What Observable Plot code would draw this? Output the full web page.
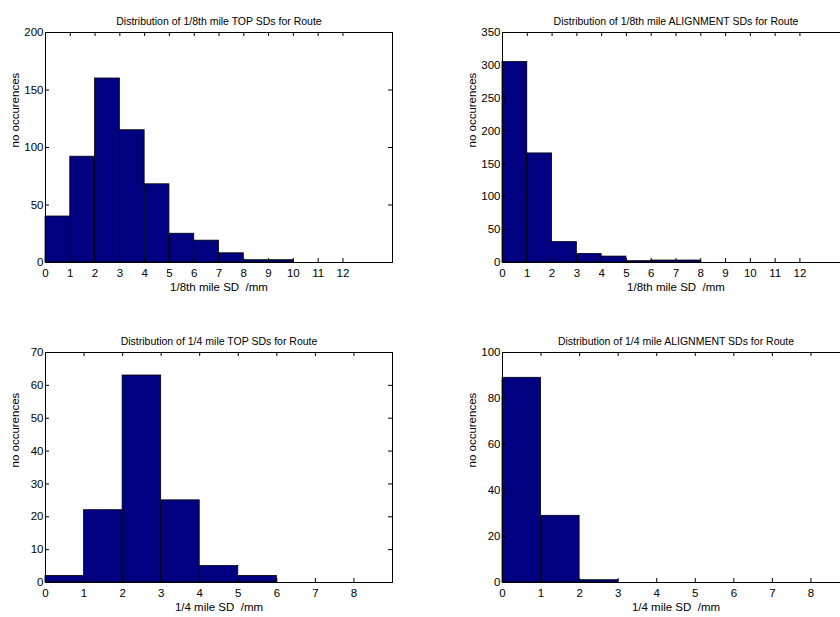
<!DOCTYPE html>
<html>
<head>
<meta charset="utf-8">
<script src="https://cdn.jsdelivr.net/npm/d3@7"></script>
<script src="https://cdn.jsdelivr.net/npm/@observablehq/plot@0.6"></script>
<style>
  html, body { margin: 0; padding: 0; background: #fff; }
  body { width: 840px; height: 617px; overflow: hidden; position: relative; }
  .panel { position: absolute; }
  .panel svg { overflow: visible; max-width: none !important; }
</style>
</head>
<body>
<div id="p1" class="panel" style="left:0px;top:0px;width:420px"></div>
<div id="p2" class="panel" style="left:420px;top:0px;width:457px"></div>
<div id="p3" class="panel" style="left:0px;top:320px;width:420px"></div>
<div id="p4" class="panel" style="left:420px;top:320px;width:457px"></div>
<script>
// ---- data ----
const titles = [
  "Distribution of 1/8th mile TOP SDs for Route",
  "Distribution of 1/8th mile ALIGNMENT SDs for Route",
  "Distribution of 1/4 mile TOP SDs for Route",
  "Distribution of 1/4 mile ALIGNMENT SDs for Route"
];
const xLabels = ["1/8th mile SD  /mm", "1/8th mile SD  /mm", "1/4 mile SD  /mm", "1/4 mile SD  /mm"];
const yLabel = "no occurences";

// bin lower edges (bins are 1 mm wide)
const binsEighth = [0, 1, 2, 3, 4, 5, 6, 7, 8, 9, 10, 11, 12, 13];
const binsQuarter = [0, 1, 2, 3, 4, 5, 6, 7, 8];

const countsEighthTop = [40, 92, 160, 115, 68, 25, 19, 8, 2, 2, 0, 0, 0, 0];
const countsEighthAlign = [305, 166, 31, 13, 9, 2, 3, 3, 0, 0, 0, 0, 0, 0];
const countsQuarterTop = [2, 22, 63, 25, 5, 2, 0, 0, 0];
const countsQuarterAlign = [89, 29, 1, 0, 0, 0, 0, 0, 0];

const xTicksEighth = [0, 1, 2, 3, 4, 5, 6, 7, 8, 9, 10, 11, 12];
const xTicksQuarter = [0, 1, 2, 3, 4, 5, 6, 7, 8];
const yTicks1 = [0, 50, 100, 150, 200];
const yTicks2 = [0, 50, 100, 150, 200, 250, 300, 350];
const yTicks3 = [0, 10, 20, 30, 40, 50, 60, 70];
const yTicks4 = [0, 20, 40, 60, 80, 100];

const xMaxEighth = 14, xMaxQuarter = 9;

// ---- drawing ----
const FONT = "'Liberation Sans', Arial, Helvetica, sans-serif";

function panel(el, opts) {
  const {title, xLabel, bins, counts, xTicks, yTicks, xMax, yMax, marginLeft, width} = opts;
  const data = bins.map((b, i) => ({x1: b, x2: b + 1, y: counts[i]}));
  const mT = 32, mB = 38, h = 300;
  const frameH = h - mT - mB;
  const frameW = width - marginLeft - 28;
  const tl = 4;
  const chart = Plot.plot({
    width, height: h,
    marginLeft, marginRight: 28, marginTop: mT, marginBottom: mB,
    style: {fontFamily: FONT, fontSize: "11px", background: "transparent", color: "#000"},
    x: {domain: [0, xMax], axis: null},
    y: {domain: [0, yMax], axis: null},
    marks: [
      Plot.rectY(data, {x1: "x1", x2: "x2", y: "y", fill: "#000080", stroke: "#000", strokeWidth: 0.8}),
      Plot.frame({stroke: "#000", strokeWidth: 1}),
      // inward ticks
      Plot.tickX(xTicks, {x: d => d, insetTop: frameH - tl, stroke: "#000"}),
      Plot.tickX(xTicks, {x: d => d, insetBottom: frameH - tl, stroke: "#000"}),
      Plot.tickY(yTicks, {y: d => d, insetRight: frameW - tl, stroke: "#000"}),
      Plot.tickY(yTicks, {y: d => d, insetLeft: frameW - tl, stroke: "#000"}),
      // tick labels
      Plot.axisX(xTicks, {anchor: "bottom", tickSize: 0, tickPadding: 6, fontSize: 11.5, label: null}),
      Plot.axisY(yTicks, {anchor: "left", tickSize: 0, tickPadding: 2, fontSize: 11.5, letterSpacing: "-0.5px", label: null}),
      // title & labels
      Plot.text([title], {frameAnchor: "top", dy: -15, text: d => d, fontSize: 10.5, letterSpacing: "-0.5px"}),
      Plot.text([xLabel], {frameAnchor: "bottom", dy: 28, text: d => d, fontSize: 11.5, letterSpacing: "-0.5px"}),
      Plot.text([yLabel], {frameAnchor: "left", dx: -30, rotate: -90, text: d => d, fontSize: 11.5, letterSpacing: "-0.2px"})
    ]
  });
  document.getElementById(el).appendChild(chart);
}

panel("p1", {title: titles[0], xLabel: xLabels[0], bins: binsEighth, counts: countsEighthTop,
  xTicks: xTicksEighth, yTicks: yTicks1, xMax: xMaxEighth, yMax: 200, marginLeft: 45, width: 420});
panel("p2", {title: titles[1], xLabel: xLabels[1], bins: binsEighth, counts: countsEighthAlign,
  xTicks: xTicksEighth, yTicks: yTicks2, xMax: xMaxEighth, yMax: 350, marginLeft: 82, width: 457});
panel("p3", {title: titles[2], xLabel: xLabels[2], bins: binsQuarter, counts: countsQuarterTop,
  xTicks: xTicksQuarter, yTicks: yTicks3, xMax: xMaxQuarter, yMax: 70, marginLeft: 45, width: 420});
panel("p4", {title: titles[3], xLabel: xLabels[3], bins: binsQuarter, counts: countsQuarterAlign,
  xTicks: xTicksQuarter, yTicks: yTicks4, xMax: xMaxQuarter, yMax: 100, marginLeft: 82, width: 457});
</script>
</body>
</html>
